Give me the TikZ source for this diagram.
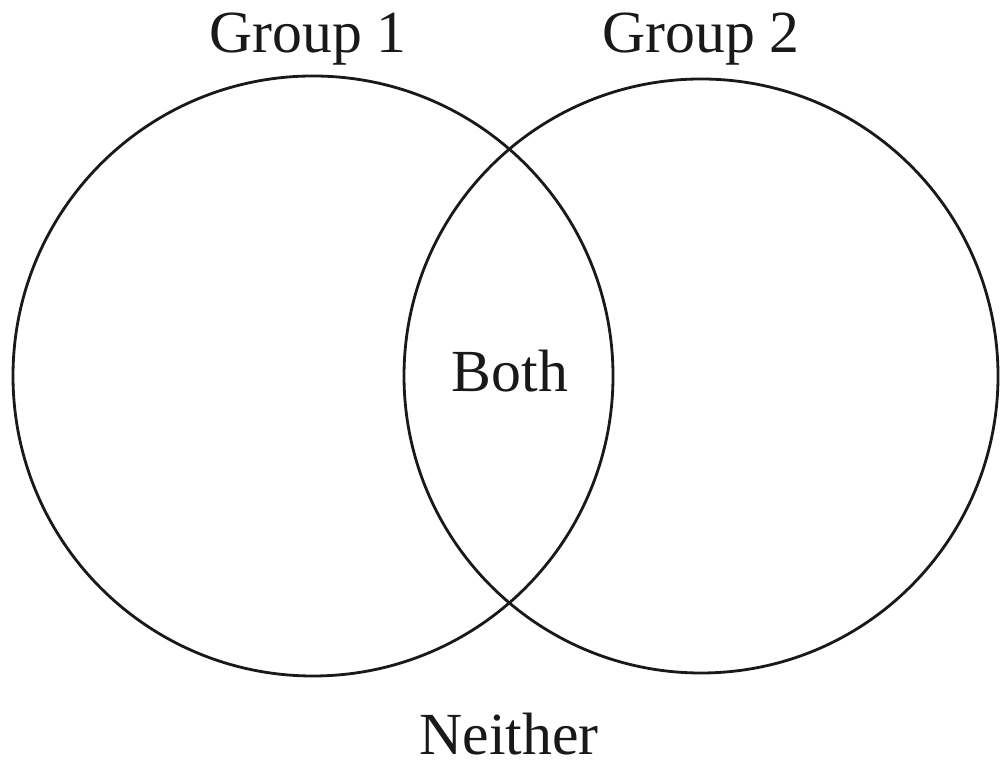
\documentclass[tikz,border=0pt]{standalone}
\usepackage{fontspec}
\setmainfont{Liberation Serif}

\begin{document}
\begin{tikzpicture}[line cap=round,line join=round,x=1cm,y=1cm,
  set/.style={circle,draw=black!90,line width=0.8pt,inner sep=0pt},
  label/.style={font=\fontsize{17}{20}\selectfont,text=black!90,anchor=base}]
\useasboundingbox (0,0) rectangle (10,7.63);
\node[set,minimum size=6.00cm] (g1) at (3.13,3.87) {};
\node[set,minimum size=5.94cm] (g2) at (7.01,3.87) {};
\node[label] (lg1) at (3.08,7.10) {Group 1};
\node[label] (lg2) at (7.01,7.10) {Group 2};
\node[label] (both) at (5.10,3.71) {Both};
\node[label] (neither) at (5.09,0.08) {Neither};
\end{tikzpicture}
\end{document}
